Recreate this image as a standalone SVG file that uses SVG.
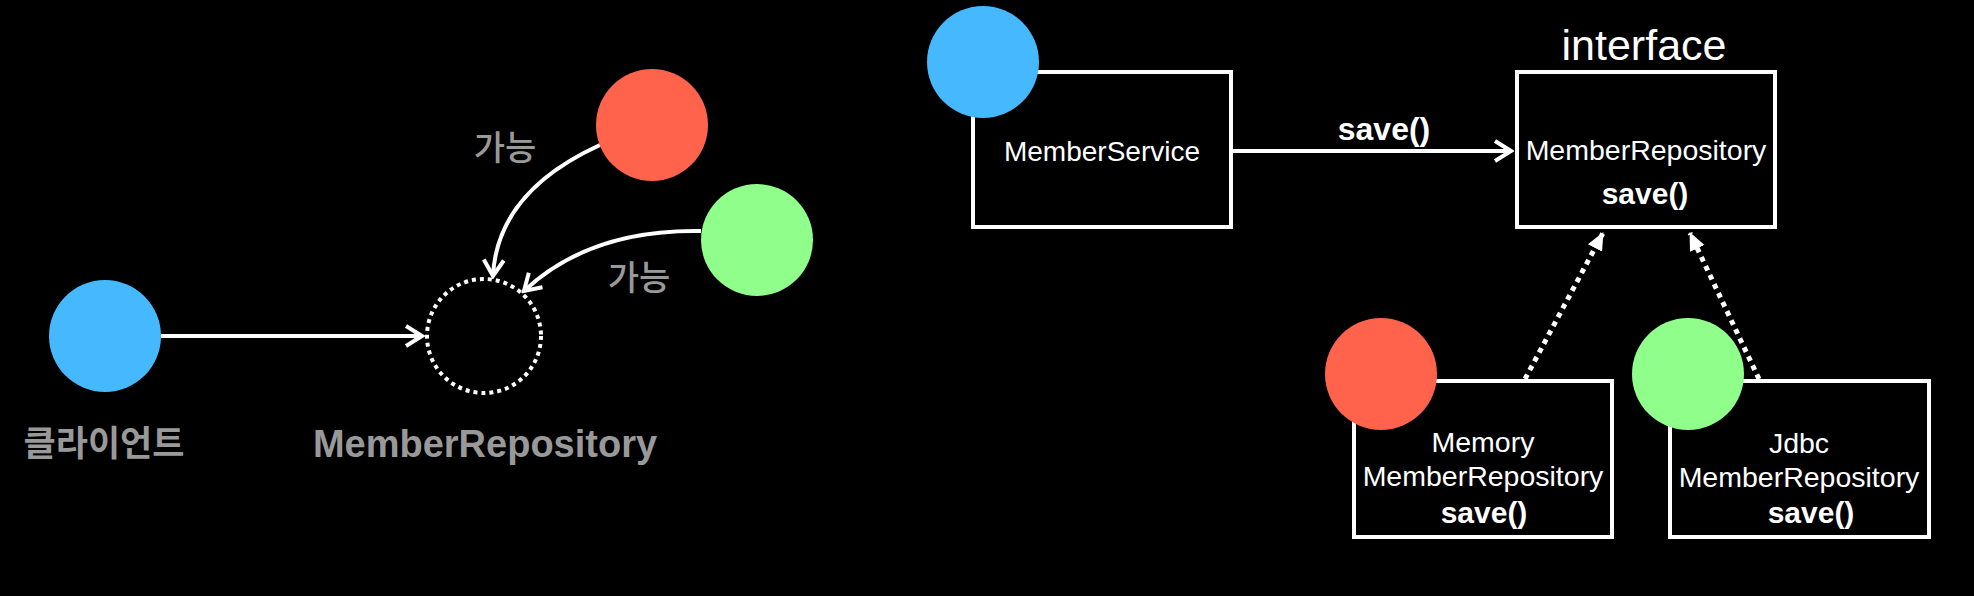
<svg xmlns="http://www.w3.org/2000/svg" width="1974" height="596" viewBox="0 0 1974 596">
  <style>
    .box { fill: #000; stroke: #fff; stroke-width: 4; }
    .txt { font-family: "Liberation Sans", Arial, sans-serif; fill: #fff; text-anchor: middle; }
    .reg { font-size: 28.5px; }
    .bold { font-weight: bold; font-size: 30px; }
    .gray { fill: #999; font-family: "Liberation Sans", "Noto Sans CJK KR", sans-serif; text-anchor: middle; }
    .ko { font-family: "Noto Sans CJK KR", sans-serif; }
    .line { fill: none; stroke: #fff; stroke-width: 4; }
    .dots { fill: none; stroke: #fff; stroke-width: 5; stroke-dasharray: 5 5; }
    .blue { fill: #46B9FE; }
    .red { fill: #FF634C; }
    .green { fill: #8FFE8B; }
  </style>
  <defs>
    <marker id="open" viewBox="0 0 22 26" refX="19" refY="13" markerWidth="22" markerHeight="26" markerUnits="userSpaceOnUse" orient="auto">
      <path d="M3,3 L19,13 L3,23" fill="none" stroke="#fff" stroke-width="4" stroke-linejoin="miter"/>
    </marker>
    <marker id="tri" viewBox="0 0 18 18" refX="17" refY="9" markerWidth="18" markerHeight="18" markerUnits="userSpaceOnUse" orient="auto">
      <path d="M0,1 L18,9 L0,17 Z" fill="#fff"/>
    </marker>
  </defs>
  <rect x="0" y="0" width="1974" height="596" fill="#000"/>

  <g id="connectors">
    <line class="line" x1="161" y1="336" x2="422" y2="336" marker-end="url(#open)"/>
    <path class="line" d="M600,145 Q497,192 493,276" marker-end="url(#open)"/>
    <path class="line" d="M701,231 Q590,229 524,291" marker-end="url(#open)"/>
    <line class="line" x1="1233" y1="151" x2="1511" y2="151" marker-end="url(#open)"/>
    <line class="dots" x1="1525" y1="379" x2="1603" y2="233" marker-end="url(#tri)"/>
    <line class="dots" x1="1759" y1="379" x2="1690" y2="233" marker-end="url(#tri)"/>
  </g>

  <g id="labels">
    <text class="gray ko" x="505" y="160" font-size="34" font-weight="500">가능</text>
    <text class="gray ko" x="639" y="290" font-size="34" font-weight="500">가능</text>
    <text class="txt" x="1384" y="140" font-size="32" font-weight="bold">save()</text>
  </g>

  <g id="client">
    <circle class="blue" cx="105" cy="336" r="56"/>
    <text class="gray ko" x="104" y="456" font-size="35" font-weight="bold">클라이언트</text>
  </g>

  <g id="member-repository-abstract">
    <circle cx="484" cy="336" r="57" fill="none" stroke="#fff" stroke-width="4" stroke-dasharray="4 4"/>
    <text class="gray" x="485" y="457" font-size="38" font-weight="bold">MemberRepository</text>
  </g>

  <g id="impl-red">
    <circle class="red" cx="652" cy="125" r="56"/>
  </g>

  <g id="impl-green">
    <circle class="green" cx="757" cy="240" r="56"/>
  </g>

  <g id="member-service">
    <rect class="box" x="973" y="72" width="258" height="155"/>
    <circle class="blue" cx="983" cy="62" r="56"/>
    <text class="txt" x="1102" y="161" font-size="28">MemberService</text>
  </g>

  <g id="member-repository">
    <text class="txt" x="1644" y="60" font-size="43">interface</text>
    <rect class="box" x="1517" y="72" width="258" height="155"/>
    <text class="txt reg" x="1646" y="160">MemberRepository</text>
    <text class="txt bold" x="1645" y="204">save()</text>
  </g>

  <g id="memory-member-repository">
    <rect class="box" x="1354" y="381" width="258" height="156"/>
    <circle class="red" cx="1381" cy="374" r="56"/>
    <text class="txt reg" x="1483" y="452">Memory</text>
    <text class="txt reg" x="1483" y="486">MemberRepository</text>
    <text class="txt bold" x="1484" y="523">save()</text>
  </g>

  <g id="jdbc-member-repository">
    <rect class="box" x="1670" y="381" width="259" height="156"/>
    <circle class="green" cx="1688" cy="374" r="56"/>
    <text class="txt reg" x="1799" y="453">Jdbc</text>
    <text class="txt reg" x="1799" y="487">MemberRepository</text>
    <text class="txt bold" x="1811" y="523">save()</text>
  </g>
</svg>
